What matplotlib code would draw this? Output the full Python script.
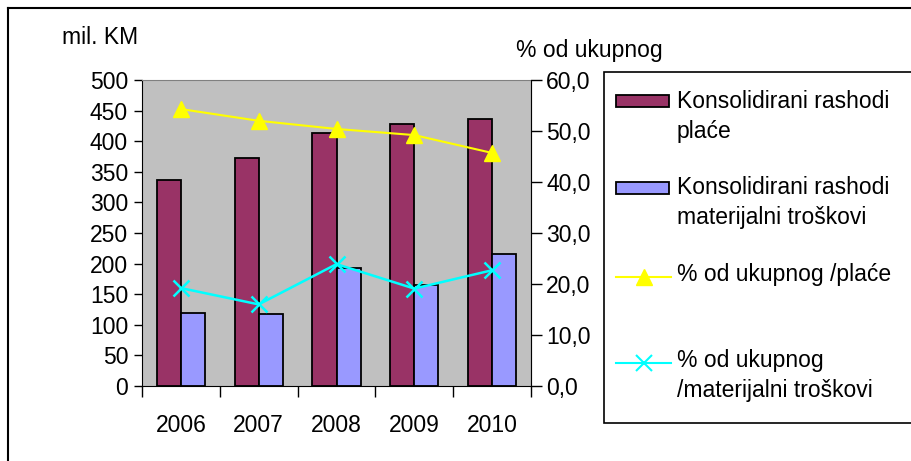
import matplotlib
matplotlib.use("Agg")
import matplotlib.pyplot as plt
from matplotlib.patches import Rectangle
from matplotlib.lines import Line2D
import numpy as np

plt.rcParams['font.family'] = ['Liberation Sans', 'DejaVu Sans']

years = ["2006", "2007", "2008", "2009", "2010"]
place = [337, 372, 414, 428, 437]
materijalni = [120, 117, 192, 165, 216]
pct_place = [54.3, 52.0, 50.4, 49.2, 45.7]
pct_mat = [19.2, 16.0, 23.9, 19.1, 22.7]

left_ticks = [0, 50, 100, 150, 200, 250, 300, 350, 400, 450, 500]
right_ticks = [0, 10, 20, 30, 40, 50, 60]

leg_labels = ["Konsolidirani rashodi\nplaće",
              "Konsolidirani rashodi\nmaterijalni troškovi",
              "% od ukupnog /plaće",
              "% od ukupnog\n/materijalni troškovi"]

C_PLACE = "#993366"
C_MAT = "#9999FF"
C_YEL = "#FFFF00"
C_CYA = "#00FFFF"

W, H = 911, 461
fig = plt.figure(figsize=(W / 100, H / 100), dpi=100)
FS = 16.5

def fx(px):
    return px / W

def fy(py):
    return 1 - py / H

L, R, T, B = 142, 531, 80, 386
ax = fig.add_axes([fx(L), fy(B), fx(R - L), (B - T) / H])
ax.set_facecolor("#C0C0C0")
x = np.arange(len(years))
bw = 0.31
ax.bar(x - bw / 2, place, width=bw, color=C_PLACE, edgecolor="black", linewidth=1.3, zorder=2)
ax.bar(x + bw / 2, materijalni, width=bw, color=C_MAT, edgecolor="black", linewidth=1.3, zorder=2)
ax.set_xlim(-0.5, len(years) - 0.5)
ax.set_ylim(0, 500)
ax.set_yticks(left_ticks)
ax.set_yticklabels([str(v) for v in left_ticks], fontsize=FS)
ax.tick_params(axis='y', direction='out', length=6, width=1, pad=4)
ax.set_xticks(np.arange(-0.5, len(years), 1.0))
ax.set_xticklabels([])
ax.tick_params(axis='x', which='major', direction='out', length=8, width=1)
ax.set_xticks(x, minor=True)
ax.set_xticklabels(years, minor=True, fontsize=FS)
ax.tick_params(axis='x', which='minor', length=0, pad=20)
for s in ['top', 'right']:
    ax.spines[s].set_color("#808080")
ax.spines['left'].set_color("black")
ax.spines['bottom'].set_color("black")

ax2 = ax.twinx()
ax2.set_ylim(0, 60)
ax2.set_yticks(right_ticks)
ax2.set_yticklabels([("%.1f" % v).replace(".", ",") for v in right_ticks], fontsize=FS)
ax2.tick_params(axis='y', direction='out', length=8, width=1, pad=3)
ax2.plot(x, pct_place, color=C_YEL, linewidth=1.5, marker="^", markersize=11,
         markerfacecolor=C_YEL, markeredgecolor=C_YEL, zorder=3)
ax2.plot(x, pct_mat, color=C_CYA, linewidth=1.8, marker="x", markersize=11,
         markeredgewidth=1.8, zorder=3)
for s in ['top', 'left', 'bottom']:
    ax2.spines[s].set_visible(False)
ax2.spines['right'].set_color("black")

fig.text(fx(62), fy(38), "mil. KM", fontsize=FS, ha="left", va="center")
fig.text(fx(516), fy(50), "% od ukupnog", fontsize=FS, ha="left", va="center")

# figure border (left and top)
fig.add_artist(Line2D([fx(8), fx(8)], [0, fy(8)], color="black", linewidth=1.5))
fig.add_artist(Line2D([fx(8), 1], [fy(8), fy(8)], color="black", linewidth=1.5))

# legend box
fig.add_artist(Rectangle((fx(604), fy(423)), fx(W + 20 - 604), (423 - 72) / H,
                         facecolor="white", edgecolor="black", linewidth=1.2,
                         transform=fig.transFigure))
hx0, hx1 = 616, 669
hmid = (hx0 + hx1 + 2) / 2
tx = 677
for yc, col in [(101, C_PLACE), (188, C_MAT)]:
    fig.add_artist(Rectangle((fx(hx0), fy(yc + 6)), fx(hx1 - hx0), 12 / H,
                             facecolor=col, edgecolor="black", linewidth=1.3,
                             transform=fig.transFigure))
fig.add_artist(Line2D([fx(hx0), fx(hmid), fx(hx1 + 2)], [fy(277)] * 3, color=C_YEL,
                      linewidth=1.5, marker="^", markersize=11, markevery=[1],
                      markerfacecolor=C_YEL, markeredgecolor=C_YEL))
fig.add_artist(Line2D([fx(hx0), fx(hmid), fx(hx1 + 2)], [fy(363)] * 3,
                      color=C_CYA, linewidth=1.5, marker="x", markersize=11,
                      markeredgewidth=1.5, markevery=[1]))
text_y = [(101, 131), (188, 217), (275,), (360, 390)]
for lab, ys in zip(leg_labels, text_y):
    for line, yy in zip(lab.split("\n"), ys):
        fig.text(fx(tx), fy(yy), line, fontsize=FS, ha="left", va="center")

fig.savefig("out.png", dpi=100)
